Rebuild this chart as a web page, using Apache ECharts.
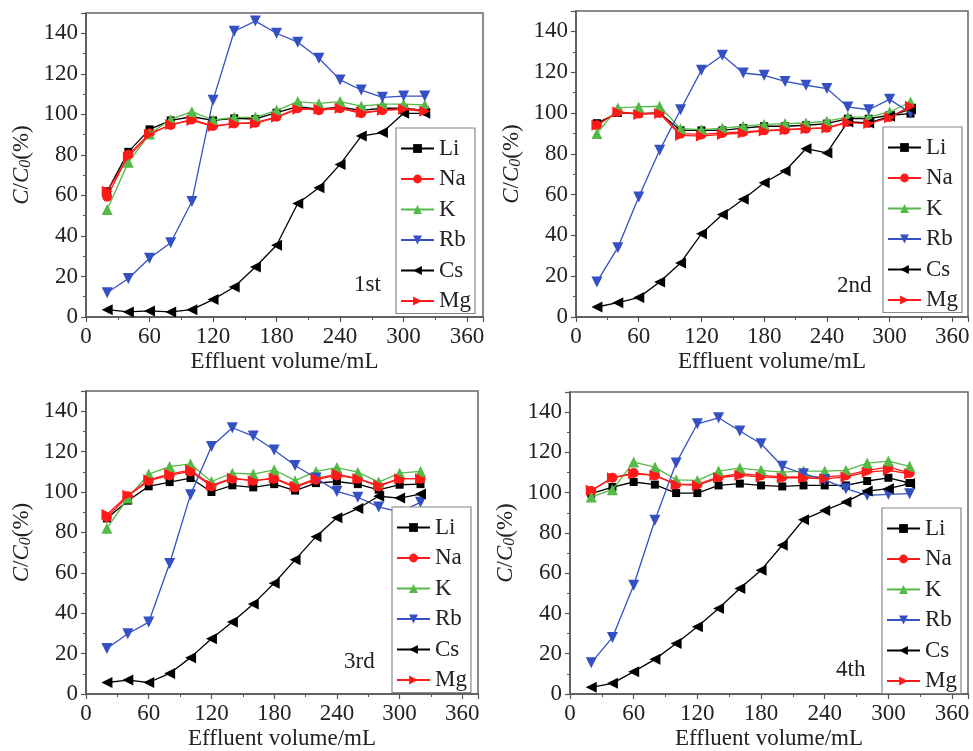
<!DOCTYPE html>
<html>
<head>
<meta charset="utf-8">
<title>Effluent curves</title>
<script src="https://cdn.jsdelivr.net/npm/echarts@6.0.0/dist/echarts.min.js"></script>
<style>
  html, body { margin: 0; padding: 0; background: #fff; }
  #chart { width: 973px; height: 751px; }
</style>
</head>
<body>
<div id="chart"></div>
<script>
// --- data ---
const volume = [20, 40, 60, 80, 100, 120, 140, 160, 180, 200, 220, 240, 260, 280, 300, 320];
const elements = ['Li', 'Na', 'K', 'Rb', 'Cs', 'Mg'];
const runLabels = ['1st', '2nd', '3rd', '4th'];

// 1st run
const li1 = [62, 81.5, 92.6, 97, 98.8, 97, 98, 97.7, 100.8, 103.8, 102.5, 103.5, 102, 103, 103, 102];
const na1 = [59.3, 80, 90.6, 94.7, 97.5, 94.2, 95.5, 95.9, 98.8, 103, 102, 103, 100.5, 102, 103, 101.8];
const k1 = [53, 76.3, 90.3, 97.5, 101.3, 97.2, 98.5, 98.5, 102, 106.3, 105.4, 106.3, 104, 105, 105, 104.6];
const rb1 = [12, 19, 29, 36.6, 57, 107, 141, 146, 140, 135.6, 127.7, 117, 112, 108.4, 109, 109];
const cs1 = [3.6, 2.5, 3, 2.5, 3.6, 8.6, 14.8, 24.7, 35.4, 56, 63.8, 75.3, 89.3, 91, 100.5, 100.5];
const mg1 = [62, 79, 90, 95, 97, 94, 95.5, 95.5, 98.5, 102.5, 102.5, 103, 101, 102, 102.5, 101.5];

// 2nd run
const li2 = [95, 100, 99.7, 100, 91.5, 91.5, 91.5, 92.6, 93.5, 93.5, 94, 94.8, 97.2, 97.2, 98.9, 99.7];
const na2 = [94, 100.5, 99.7, 100, 89.9, 89.5, 90.2, 90.7, 91.5, 91.8, 92.3, 92.8, 95.6, 95.1, 98, 103];
const k2 = [89.9, 102.5, 103, 103.3, 92.3, 91.8, 92.6, 93.5, 94.4, 94.8, 95.1, 96, 98, 98, 100.5, 105.4];
const rb2 = [17.2, 34, 58.8, 81.7, 101.6, 121, 128.3, 119.6, 118.5, 115.5, 113.6, 112, 103, 101.6, 106.7, 100];
const cs2 = [4.9, 7, 9.5, 17.2, 26.5, 40.8, 50.2, 57.7, 65.8, 71.6, 82.5, 80.4, 95.6, 95.1, 98.4, 102];
const mg2 = [94, 100.5, 99.3, 99.7, 89, 88.7, 89.5, 90.2, 91.2, 91.8, 92.3, 92.6, 95.3, 94.8, 97.7, 103.3];

// 3rd run
const li3 = [86.9, 95.7, 102.8, 104.9, 106.9, 100, 103.3, 102.3, 103.9, 100.7, 104.4, 105.2, 103.9, 101.1, 103.6, 103.9];
const na3 = [87.5, 97.9, 105.6, 108.2, 110.2, 102.8, 106.6, 105.6, 106.6, 102.3, 106.1, 108.2, 106.6, 102.8, 106.6, 106.6];
const k3 = [82, 97, 108.9, 112.6, 113.9, 105.2, 109.3, 108.9, 111, 105.6, 110.2, 112.1, 109.8, 104.9, 109.3, 110.2];
const rb3 = [22.5, 29.8, 35.6, 64.6, 98.7, 122.5, 131.8, 127.7, 120.8, 113.1, 106.9, 100.3, 97.4, 92.6, 90, 94.9];
const cs3 = [5.7, 6.9, 5.7, 10.2, 18, 27.4, 35.6, 44.6, 54.8, 66.4, 77.9, 87.2, 91.8, 97.9, 97, 99];
const mg3 = [88.9, 98.4, 106.1, 108.9, 111, 103.3, 106.9, 105.6, 106.9, 102.8, 106.6, 108.9, 106.6, 103.3, 106.6, 106.6];

// 4th run
const li4 = [99.5, 102.8, 105.3, 104, 99.8, 99.8, 103.6, 104.5, 103.6, 103.1, 103.6, 103.6, 103.6, 105.8, 107.4, 104.8];
const na4 = [100.8, 107.4, 109.8, 108.6, 104.1, 104.1, 107.8, 109.4, 108.6, 107.8, 107.8, 107.8, 108.6, 111.1, 112.7, 109.8];
const k4 = [97.9, 101.5, 115.2, 112.7, 106.4, 106.1, 110.7, 112.2, 111.1, 110.2, 110.7, 110.7, 111.1, 114.7, 115.7, 113.1];
const rb4 = [15.5, 28.1, 54, 86.3, 114.7, 134.2, 137.2, 130.6, 124.3, 113.1, 109.4, 106.4, 102, 98.7, 99.2, 99.5];
const cs4 = [3.3, 5.3, 11.1, 17.2, 25.1, 33.4, 42.5, 52.4, 61.5, 73.9, 86.6, 91.2, 95.4, 100.8, 102, 104.5];
const mg4 = [101.2, 107.4, 109.4, 108.6, 104.1, 103.6, 107.4, 108.6, 107.8, 107.4, 107.4, 106.9, 107.8, 110.2, 111.1, 109.4];

const runs = [
  [li1, na1, k1, rb1, cs1, mg1],
  [li2, na2, k2, rb2, cs2, mg2],
  [li3, na3, k3, rb3, cs3, mg3],
  [li4, na4, k4, rb4, cs4, mg4]
];

// --- styling ---
const FONT = 'Liberation Serif';
const FS = 23;
const styles = {
  Li: { color: '#000000', symbol: 'rect', size: 8, rotate: 0 },
  Na: { color: '#ff1a1a', symbol: 'circle', size: 10, rotate: 0 },
  K:  { color: '#55b947', symbol: 'triangle', size: 11, rotate: 0 },
  Rb: { color: '#3550c2', symbol: 'triangle', size: 11, rotate: 180 },
  Cs: { color: '#000000', symbol: 'triangle', size: 11, rotate: 90 },
  Mg: { color: '#ff1a1a', symbol: 'triangle', size: 11, rotate: -90 }
};

// panel boxes in pixels: [left, top, width, height], legend [left, top], run label [x, y]
const panels = [
  { grid: [86, 13, 397, 304], legend: [396, 128], label: [354, 273] },
  { grid: [576, 11, 392, 306], legend: [883, 127], label: [837, 274] },
  { grid: [86, 391, 392, 305], legend: [392, 507], label: [344, 650] },
  { grid: [570, 392, 398, 304], legend: [882, 508], label: [836, 658] }
];

const option = {
  backgroundColor: '#fff',
  animation: false,
  grid: [],
  xAxis: [],
  yAxis: [],
  legend: [],
  series: [],
  graphic: []
};

panels.forEach(function (p, i) {
  option.grid.push({
    left: p.grid[0], top: p.grid[1], width: p.grid[2], height: p.grid[3],
    show: true, borderColor: '#666', borderWidth: 1.5, backgroundColor: 'transparent'
  });

  option.xAxis.push({
    gridIndex: i,
    type: 'value',
    min: 0, max: 375, interval: 60,
    name: 'Effluent volume/mL',
    nameLocation: 'middle',
    nameGap: 33,
    nameTextStyle: { fontFamily: FONT, fontSize: FS, color: '#222' },
    axisLine: { lineStyle: { color: '#555', width: 1.5 } },
    axisTick: { show: true, inside: false, length: 5, lineStyle: { color: '#555', width: 1.2 } },
    minorTick: { show: true, splitNumber: 2, length: 3, lineStyle: { color: '#555', width: 1 } },
    axisLabel: { fontFamily: FONT, fontSize: FS, color: '#222', margin: 8, showMaxLabel: false },
    splitLine: { show: false }
  });

  option.yAxis.push({
    gridIndex: i,
    type: 'value',
    min: 0, max: 150, interval: 20,
    name: '{i|C}/{i|C}{s|0}(%)',
    nameLocation: 'middle',
    nameGap: 52,
    nameTextStyle: {
      fontFamily: FONT, fontSize: FS, color: '#222',
      rich: {
        i: { fontFamily: FONT, fontSize: FS, fontStyle: 'italic', color: '#222' },
        s: { fontFamily: FONT, fontSize: 16, fontStyle: 'italic', color: '#222', verticalAlign: 'bottom', padding: [8, 0, 0, 0] }
      }
    },
    axisLine: { show: true, lineStyle: { color: '#555', width: 1.5 } },
    axisTick: { show: true, inside: false, length: 5, lineStyle: { color: '#555', width: 1.2 } },
    minorTick: { show: true, splitNumber: 2, length: 3, lineStyle: { color: '#555', width: 1 } },
    axisLabel: { fontFamily: FONT, fontSize: FS, color: '#222', margin: 8, showMaxLabel: false },
    splitLine: { show: false }
  });

  const legendData = [];
  elements.forEach(function (el, k) {
    const st = styles[el];
    const seriesName = el + ' ' + runLabels[i];
    legendData.push({ name: seriesName });
    option.series.push({
      name: seriesName,
      type: 'line',
      xAxisIndex: i,
      yAxisIndex: i,
      data: volume.map(function (v, j) { return [v, runs[i][k][j]]; }),
      symbol: st.symbol,
      symbolSize: st.size,
      symbolRotate: st.rotate,
      showAllSymbol: true,
      itemStyle: { color: st.color },
      lineStyle: { color: st.color, width: 1.3 },
      z: 2 + k
    });
  });

  option.legend.push({
    orient: 'vertical',
    left: p.legend[0], top: p.legend[1],
    data: legendData,
    formatter: function (name) { return name.split(' ')[0]; },
    itemWidth: 33, itemHeight: 11, itemGap: 7.5,
    padding: [9, 4, 1, 4],
    backgroundColor: '#fff',
    borderColor: '#888', borderWidth: 1.2,
    textStyle: { fontFamily: FONT, fontSize: FS, lineHeight: 22, color: '#222' },
    selectedMode: false,
    z: 10
  });

  option.graphic.push({
    type: 'text',
    left: p.label[0], top: p.label[1],
    style: { text: runLabels[i], font: FS + 'px "' + FONT + '"', fill: '#222' },
    z: 5
  });
});

const chart = echarts.init(document.getElementById('chart'), null, { renderer: 'canvas' });
chart.setOption(option);
</script>
</body>
</html>
